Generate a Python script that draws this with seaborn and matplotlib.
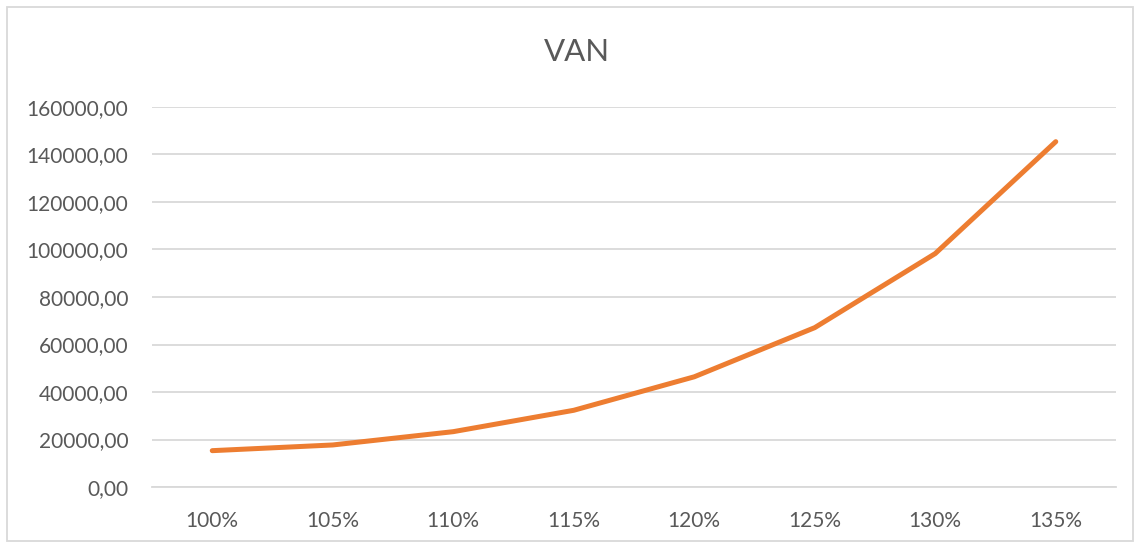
import matplotlib
matplotlib.use("Agg")
import matplotlib.pyplot as plt
import seaborn as sns
import pandas as pd
from matplotlib.patches import Rectangle

categories = ["100%", "105%", "110%", "115%", "120%", "125%", "130%", "135%"]
van_values = [15300, 17700, 23300, 32300, 46400, 67100, 98300, 145400]
y_ticks = [0, 20000, 40000, 60000, 80000, 100000, 120000, 140000, 160000]

sns.set_theme(style="white")
plt.rcParams['font.family'] = ['Lato', 'DejaVu Sans']

df = pd.DataFrame({"cat": categories, "van": van_values})

fig = plt.figure(figsize=(11.42, 5.47), dpi=100)
ax = fig.add_axes([152/1142, 1 - 487/547, (1116-152)/1142, (487-107)/547])

sns.lineplot(data=df, x="cat", y="van", ax=ax, color="#ED7D31", linewidth=3.6,
             solid_capstyle="round", solid_joinstyle="round")

ax.set_xlim(-0.5, len(categories) - 0.5)
ax.set_ylim(0, 160000)
ax.set_yticks(y_ticks)
ax.set_yticklabels([f"{v:.2f}".replace(".", ",") for v in y_ticks])
ax.set_xticks(range(len(categories)))
ax.set_xticklabels(categories)
ax.tick_params(axis="both", length=0, labelsize=15, colors="#595959")
ax.tick_params(axis="y", pad=17)
ax.tick_params(axis="x", pad=17)
ax.set_xlabel("")
ax.set_ylabel("")
ax.grid(axis="y", color="#D9D9D9", linewidth=1.3)
ax.set_axisbelow(True)
for s in ["top", "right", "left"]:
    ax.spines[s].set_visible(False)
ax.spines["bottom"].set_color("#D9D9D9")
ax.spines["bottom"].set_linewidth(1.3)

fig.text(577/1142, 1 - 52/547, "VAN", ha="center", va="center", fontsize=22.5, color="#595959")

fig.patches.append(Rectangle((7/1142, 1 - 541/547), (1133-7)/1142, (541-7)/547,
                             transform=fig.transFigure, fill=False, edgecolor="#D9D9D9", linewidth=1.3))

fig.savefig("out.png", dpi=100)
